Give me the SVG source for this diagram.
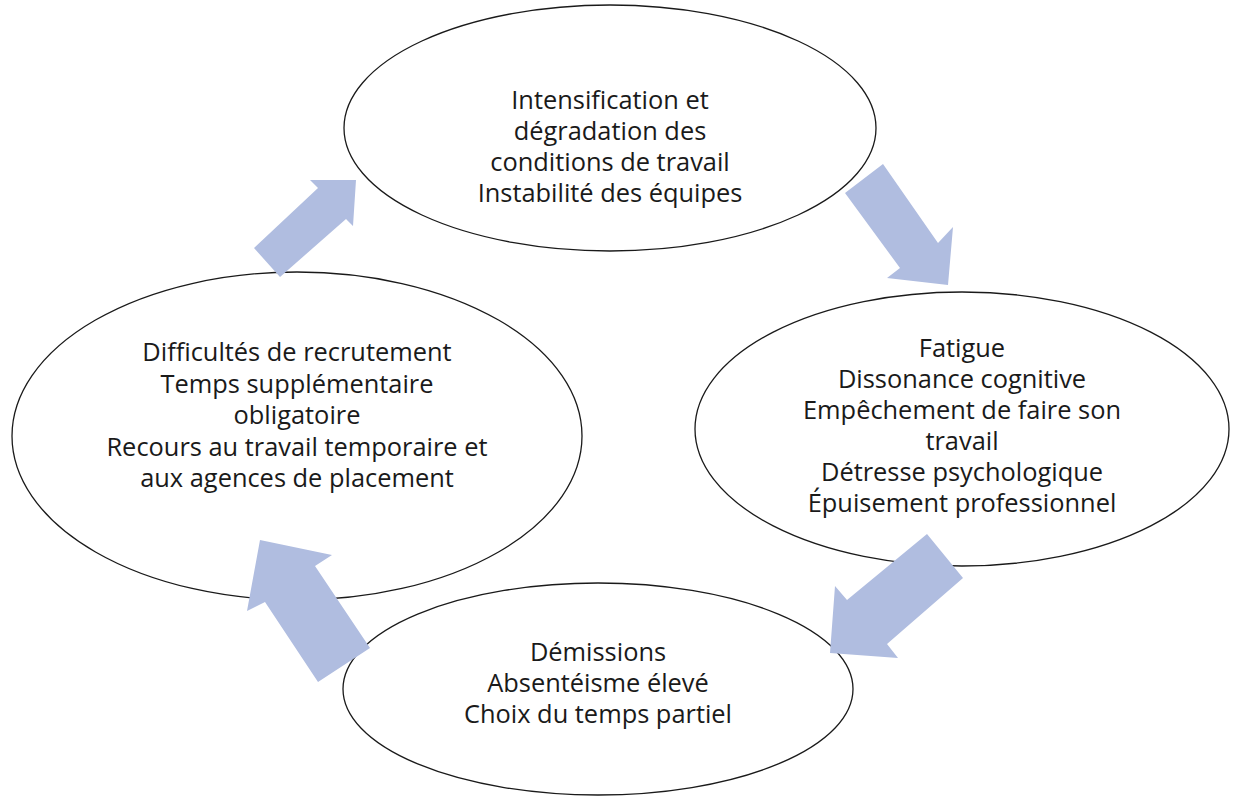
<svg xmlns="http://www.w3.org/2000/svg" width="1233" height="796" viewBox="0 0 1233 796">
<style>
.node ellipse{fill:#ffffff;stroke:#1a1a1a;stroke-width:1.3}
.node text{font-family:"Open Sans","Liberation Sans",sans-serif;font-size:25.4px;fill:#1a1a1a;text-anchor:middle}
.arrow{fill:#B0BDE0;stroke:none}
</style>
<rect width="1233" height="796" fill="#ffffff"/>
<g id="node-top" class="node">
<ellipse cx="610" cy="128" rx="266" ry="123"/>
<text x="610" y="109">Intensification et</text>
<text x="610" y="140">dégradation des</text>
<text x="610" y="171">conditions de travail</text>
<text x="610" y="202">Instabilité des équipes</text>
</g>
<g id="node-right" class="node">
<ellipse cx="962" cy="429" rx="267" ry="137"/>
<text x="962" y="357">Fatigue</text>
<text x="962" y="388">Dissonance cognitive</text>
<text x="962" y="419">Empêchement de faire son</text>
<text x="962" y="450">travail</text>
<text x="962" y="481">Détresse psychologique</text>
<text x="962" y="512">Épuisement professionnel</text>
</g>
<g id="node-bottom" class="node">
<ellipse cx="598" cy="689" rx="255" ry="106"/>
<text x="598" y="661">Démissions</text>
<text x="598" y="692">Absentéisme élevé</text>
<text x="598" y="723">Choix du temps partiel</text>
</g>
<g id="node-left" class="node">
<ellipse cx="297" cy="436" rx="285" ry="164"/>
<text x="297" y="361">Difficultés de recrutement</text>
<text x="297" y="393">Temps supplémentaire</text>
<text x="297" y="424">obligatoire</text>
<text x="297" y="456">Recours au travail temporaire et</text>
<text x="297" y="487">aux agences de placement</text>
</g>
<g id="connectors">
<polygon class="arrow" points="254,248 318,188 310,180 356,180 353,226 346,219 280,277"/>
<polygon class="arrow" points="883,164 938,243 953,227 948,285 887,278 900,268 845,193"/>
<polygon class="arrow" points="927,534 963,578 887,644 898,658 830,653 835,586 847,600"/>
<polygon class="arrow" points="260,540 332,555 315,566 370,648 318,682 265,602 247,611"/>
</g>
</svg>
